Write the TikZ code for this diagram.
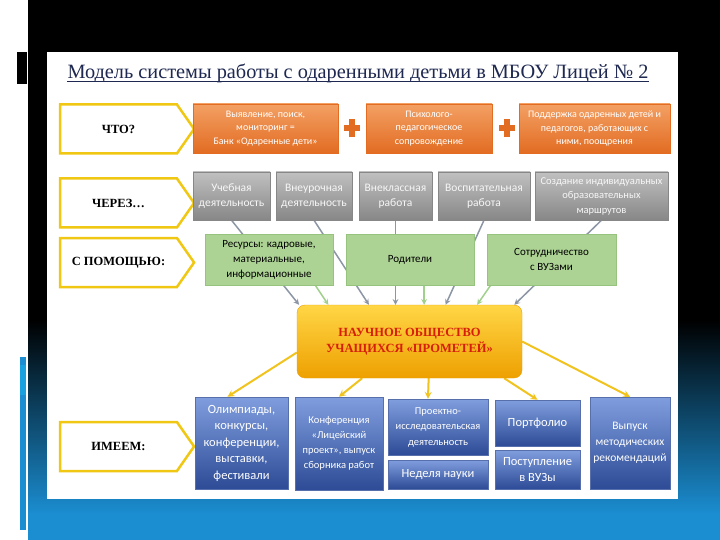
\documentclass[tikz,border=0pt]{standalone}
\usepackage{fontspec}
\setmainfont{Liberation Serif}
\newfontfamily\boxfont{Carlito}
\usetikzlibrary{shapes.symbols,calc}

\definecolor{orangetop}{RGB}{243,160,100}
\definecolor{orangebot}{RGB}{226,108,34}
\definecolor{graytop}{RGB}{192,192,192}
\definecolor{graybot}{RGB}{135,135,135}
\definecolor{greenfill}{RGB}{172,210,148}
\definecolor{greenline}{RGB}{150,195,125}
\definecolor{bluetop}{RGB}{128,158,222}
\definecolor{bluebot}{RGB}{45,75,150}
\definecolor{promtop}{RGB}{255,214,70}
\definecolor{prombot}{RGB}{238,160,0}
\definecolor{promred}{RGB}{215,30,10}
\definecolor{askyellow}{RGB}{240,200,20}
\definecolor{arrowgray}{RGB}{140,150,165}
\definecolor{arrowgreen}{RGB}{160,208,140}
\definecolor{arrowyellow}{RGB}{240,195,30}
\definecolor{titleblue}{RGB}{30,40,80}
\definecolor{slideblue}{RGB}{27,142,210}

\pgfdeclarelayer{back}
\pgfdeclarelayer{mid}
\pgfsetlayers{back,mid,main}

\begin{document}
\begin{tikzpicture}[
        x = 1pt,
        y = -1pt,
        >= stealth,
        ask/.style = {signal, signal to=east, signal pointer angle=110,
            draw=askyellow, line width=2.5pt, fill=white, inner sep=0pt,
            minimum width=134pt, minimum height=49pt,
            font=\bfseries\fontsize{12.5}{14}\selectfont},
        orangebox/.style = {top color=orangetop, bottom color=orangebot,
            draw=orangebot, text=white, align=center, inner sep=0pt,
            minimum height=49pt, font=\boxfont\fontsize{10}{13.3}\selectfont},
        graybox/.style = {top color=graytop, bottom color=graybot,
            draw=graybot, text=white!94!gray, align=center, inner sep=0pt,
            minimum height=48pt, font=\boxfont\fontsize{11.5}{15}\selectfont},
        greenbox/.style = {fill=greenfill, draw=greenline, align=center,
            inner sep=0pt, minimum width=128pt, minimum height=51pt,
            font=\boxfont\fontsize{11}{15}\selectfont},
        bluebox/.style = {top color=bluetop, bottom color=bluebot,
            draw=bluebot!80!white, text=white, align=center, inner sep=0pt,
            font=\boxfont\fontsize{12.5}{16.5}\selectfont},
        grayarrow/.style = {->, draw=arrowgray, line width=1.5pt},
        greenarrow/.style = {->, draw=arrowgreen, line width=1.5pt},
        yellowarrow/.style = {->, draw=arrowyellow, line width=2pt}
        ]
        \useasboundingbox (0, 0) rectangle (720, 540);

        % slide background
        \begin{pgfonlayer}{back}
            \fill[white] (0, 0) rectangle (720, 540);
            \fill[black] (28, 0) rectangle (720, 320);
            \shade[top color=black, bottom color=slideblue] (28, 320) rectangle (720, 515);
            \fill[slideblue] (28, 515) rectangle (720, 540);
            \fill[black] (17, 52) rectangle (27, 84);
            \fill[slideblue] (20, 357) rectangle (26, 530);
            \fill[cyan!70!slideblue] (20, 365) rectangle (26, 395);
            \fill[white] (47, 52) rectangle (678, 499);
        \end{pgfonlayer}

        \node[inner sep=0pt, text=titleblue, font=\fontsize{20.3}{23}\selectfont]
            (title) at (358, 73) {Модель системы работы с одаренными детьми в МБОУ Лицей № 2};
        \draw[titleblue, line width=0.8pt] ([yshift=-3pt]title.base west) -- ([yshift=-3pt]title.base east);

        % left labels
        \node[ask] (what) at (118.5, 129) {ЧТО?};
        \node[ask] (via) at (118.5, 203) {ЧЕРЕЗ…};
        \node[ask] (with) at (118.5, 262.5) {С ПОМОЩЬЮ:};
        \node[ask] (have) at (118.5, 446.5) {ИМЕЕМ:};

        % what
        \node[orangebox, minimum width=145pt] (o1) at (265.5, 128.5)
            {Выявление, поиск,\\мониторинг =\\Банк «Одаренные дети»};
        \node[orangebox, minimum width=126pt] (o2) at (429, 128.5)
            {Психолого-\\педагогическое\\сопровождение};
        \node[orangebox, minimum width=151pt] (o3) at (594.5, 128.5)
            {Поддержка одаренных детей и\\педагогов, работающих с\\ними, поощрения};
        \foreach \px in {352, 507} {
            \fill[orangebot] (\px-8, 125) rectangle (\px+8, 131);
            \fill[orangebot] (\px-3, 119) rectangle (\px+3, 137);
        }

        % via
        \node[graybox, minimum width=77pt] (g1) at (231.5, 196) {Учебная\\деятельность};
        \node[graybox, minimum width=76pt] (g2) at (314, 196) {Внеурочная\\деятельность};
        \node[graybox, minimum width=73pt] (g3) at (395.5, 196) {Внеклассная\\работа};
        \node[graybox, minimum width=92pt] (g4) at (484, 196) {Воспитательная\\работа};
        \node[graybox, minimum width=133pt, font=\boxfont\fontsize{10.5}{14.5}\selectfont]
            (g5) at (601.5, 196) {Создание индивидуальных\\образовательных\\маршрутов};

        % with
        \node[greenbox] (r1) at (269, 259.5) {Ресурсы: кадровые,\\материальные,\\информационные};
        \node[greenbox] (r2) at (410, 259.5) {Родители};
        \node[greenbox, minimum width=129pt] (r3) at (551.5, 259.5) {Сотрудничество\\с ВУЗами};

        \node[rounded corners=8pt, top color=promtop, bottom color=prombot, draw=prombot,
            minimum width=225pt, minimum height=73pt, align=center, text=promred,
            font=\bfseries\fontsize{12.5}{16}\selectfont]
            (prom) at (409.5, 341.5) {НАУЧНОЕ ОБЩЕСТВО\\УЧАЩИХСЯ «ПРОМЕТЕЙ»};

        % have
        \node[bluebox, minimum width=93pt, minimum height=92pt] (b1) at (241.5, 443)
            {Олимпиады,\\конкурсы,\\конференции,\\выставки,\\фестивали};
        \node[bluebox, minimum width=88pt, minimum height=93pt,
            font=\boxfont\fontsize{10.5}{15}\selectfont] (b2) at (339, 443.5)
            {Конференция\\«Лицейский\\проект», выпуск\\сборника работ};
        \node[bluebox, minimum width=100pt, minimum height=56pt,
            font=\boxfont\fontsize{10.5}{15.5}\selectfont] (b3) at (438, 427)
            {Проектно-\\исследовательская\\деятельность};
        \node[bluebox, minimum width=100pt, minimum height=29pt] (b4) at (438, 474.5) {Неделя науки};
        \node[bluebox, minimum width=85pt, minimum height=46pt] (b5) at (537.5, 423) {Портфолио};
        \node[bluebox, minimum width=85pt, minimum height=39pt] (b6) at (537.5, 469.5) {Поступление\\в ВУЗы};
        \node[bluebox, minimum width=80pt, minimum height=92pt,
            font=\boxfont\fontsize{11.5}{16}\selectfont] (b7) at (630, 443)
            {Выпуск\\методических\\рекомендаций};

        \begin{pgfonlayer}{mid}
            \draw[grayarrow] (g1.south) -- ($(prom.north west)!.01!(prom.north east)$);
            \draw[grayarrow] (g2.south) -- ($(prom.north west)!.32!(prom.north east)$);
            \draw[grayarrow] (g3.south) -- (g3.south |- prom.north);
            \draw[grayarrow] (g4.south) -- ($(prom.north west)!.66!(prom.north east)$);
            \draw[grayarrow] (g5.south) -- ($(prom.north west)!.965!(prom.north east)$);
            \draw[greenarrow] ($(r1.south west)!.86!(r1.south east)$) -- ($(prom.north west)!.14!(prom.north east)$);
            \coordinate (r2foot) at ($(r2.south west)!.61!(r2.south east)$);
            \draw[greenarrow] (r2foot) -- (r2foot |- prom.north);
            \draw[greenarrow] ($(r3.south west)!.03!(r3.south east)$) -- ($(prom.north west)!.80!(prom.north east)$);
            \draw[yellowarrow] ($(prom.north west)!.65!(prom.south west)$) -- ($(b1.north west)!.35!(b1.north east)$);
            \draw[yellowarrow] ($(prom.south west)!.29!(prom.south east)$) -- (b2.north);
            \draw[yellowarrow] ($(prom.south west)!.585!(prom.south east)$) -- ($(b3.north west)!.4!(b3.north east)$);
            \draw[yellowarrow] ($(prom.south west)!.92!(prom.south east)$) -- (b5.north);
            \draw[yellowarrow] (prom.east) -- (b7.north);
        \end{pgfonlayer}
    \end{tikzpicture}
\end{document}
